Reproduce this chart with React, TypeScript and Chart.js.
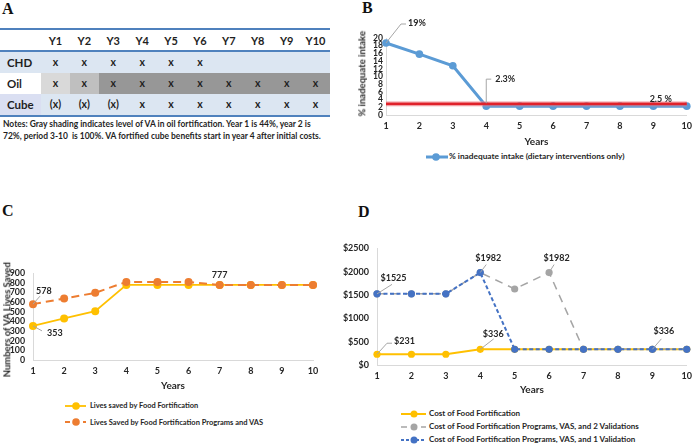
import React, { useEffect, useRef } from "react";
import { Chart, registerables } from "chart.js";

Chart.register(...registerables);

const FONT = "Lato, 'Open Sans', 'DejaVu Sans', sans-serif";
const SERIF = "'Liberation Serif', 'DejaVu Serif', serif";
const TEXT = "#262626";

// ---------- Panel A data ----------
const TABLE_YEARS = ["Y1", "Y2", "Y3", "Y4", "Y5", "Y6", "Y7", "Y8", "Y9", "Y10"];
const TABLE_ROWS = ["CHD", "Oil", "Cube"];
const CHD_MARKS = ["x", "x", "x", "x", "x", "x", "", "", "", ""];
const OIL_MARKS = ["x", "x", "x", "x", "x", "x", "x", "x", "x", "x"];
const CUBE_MARKS = ["(x)", "(x)", "(x)", "x", "x", "x", "x", "x", "x", "x"];
const OIL_VA_LEVEL = [44, 72, 100, 100, 100, 100, 100, 100, 100, 100];
const NOTES_LINES = [
  "Notes: Gray shading indicates level of VA in oil fortification. Year 1 is 44%, year 2 is",
  "72%, period 3-10  is 100%. VA fortified cube benefits start in year 4 after initial costs.",
];

// ---------- Shared ----------
const YEARS = ["1", "2", "3", "4", "5", "6", "7", "8", "9", "10"];

// ---------- Panel B data ----------
const INADEQUATE_INTAKE = [18.7, 15.8, 12.8, 2.3, 2.3, 2.3, 2.3, 2.3, 2.3, 2.3];
const THRESHOLD = [2.9, 2.9, 2.9, 2.9, 2.9, 2.9, 2.9, 2.9, 2.9, 2.9];
const B_LEGEND = "% inadequate intake (dietary interventions only)";
const B_Y_TITLE = "% inadequate intake";

// ---------- Panel C data ----------
const LIVES_FF = [353, 430, 505, 777, 777, 777, 777, 777, 777, 777];
const LIVES_FF_VAS = [578, 635, 695, 808, 808, 808, 777, 777, 777, 777];
const C_LEGEND = [
  "Lives saved by Food Fortification",
  "Lives Saved by Food Fortification Programs and VAS",
];
const C_Y_TITLE = "Numbers of VA Lives Saved";

// ---------- Panel D data ----------
const COST_FF = [231, 231, 231, 336, 336, 336, 336, 336, 336, 336];
const COST_FF_VAS_2VAL = [1525, 1525, 1525, 1982, 1630, 1982, 336, 336, 336, 336];
const COST_FF_VAS_1VAL = [1525, 1525, 1525, 1982, 336, 336, 336, 336, 336, 336];
const D_LEGEND = [
  "Cost of Food Fortification",
  "Cost of Food Fortification Programs, VAS, and 2 Validations",
  "Cost of Food Fortification Programs, VAS, and 1 Validation",
];

// ---------- helpers ----------
type Ann = {
  ds: number;
  i: number;
  text: string;
  path?: [number, number][];
  dx: number;
  dy: number;
  align?: CanvasTextAlign;
};

function makeAnnPlugin(items: Ann[], size: number) {
  return {
    id: "anns",
    afterDatasetsDraw(chart: any) {
      const ctx = chart.ctx as CanvasRenderingContext2D;
      ctx.save();
      for (const a of items) {
        const el = chart.getDatasetMeta(a.ds).data[a.i];
        const px = el.x;
        const py = el.y;
        if (a.path) {
          ctx.beginPath();
          a.path.forEach(([x, y], k) => {
            if (k === 0) ctx.moveTo(px + x, py + y);
            else ctx.lineTo(px + x, py + y);
          });
          ctx.strokeStyle = "#a6a6a6";
          ctx.lineWidth = 1;
          ctx.setLineDash([]);
          ctx.stroke();
        }
        ctx.font = `bold ${size}px ${FONT}`;
        ctx.fillStyle = TEXT;
        ctx.textAlign = a.align || "center";
        ctx.textBaseline = "middle";
        ctx.fillText(a.text, px + a.dx, py + a.dy);
      }
      ctx.restore();
    },
  };
}

type AxisP = {
  yMax: number;
  step: number;
  yWidth: number;
  xHeight: number;
  yTickPad: number;
  xTickPad: number;
  xTitlePad: number;
  tickSize: number;
  yTickSize: number;
  titleSize: number;
  money?: boolean;
};

function axes(p: AxisP) {
  const yTicks: any = {
    stepSize: p.step,
    autoSkip: false,
    padding: p.yTickPad,
    color: TEXT,
    font: { family: FONT, weight: "bold", size: p.yTickSize },
  };
  if (p.money) yTicks.callback = (v: any) => "$" + v;
  return {
    x: {
      type: "category",
      offset: false,
      grid: { display: false, drawTicks: false },
      border: { display: true, color: "#d9d9d9", width: 1 },
      ticks: {
        padding: p.xTickPad,
        autoSkip: false,
        maxRotation: 0,
        color: TEXT,
        font: { family: FONT, weight: "bold", size: p.tickSize },
      },
      title: {
        display: true,
        text: "Years",
        color: TEXT,
        font: { family: FONT, weight: "bold", size: p.titleSize },
        padding: { top: 0, bottom: p.xTitlePad },
      },
      afterFit: (s: any) => {
        s.height = p.xHeight;
      },
    },
    y: {
      min: 0,
      max: p.yMax,
      grid: { display: false, drawTicks: false },
      border: { display: true, color: "#d9d9d9", width: 1 },
      ticks: yTicks,
      title: { display: false },
      afterFit: (s: any) => {
        s.width = p.yWidth;
      },
    },
  };
}

function baseOptions(padTop: number, padRight: number, scales: any) {
  return {
    responsive: false,
    animation: false as const,
    layout: { padding: { left: 0, top: padTop, right: padRight, bottom: 0 } },
    plugins: { legend: { display: false }, tooltip: { enabled: false } },
    scales,
  };
}

function ChartCanvas(props: { left: number; top: number; width: number; height: number; make: () => any }) {
  const ref = useRef<HTMLCanvasElement>(null);
  useEffect(() => {
    const chart = new Chart(ref.current as HTMLCanvasElement, props.make());
    return () => chart.destroy();
  }, []);
  return (
    <canvas
      ref={ref}
      width={props.width}
      height={props.height}
      style={{ position: "absolute", left: props.left, top: props.top, width: props.width, height: props.height }}
    />
  );
}

function lineDs(label: string, data: number[], color: string, width: number, r: number, dash: number[], order: number) {
  return {
    label,
    data,
    borderColor: color,
    backgroundColor: color,
    borderWidth: width,
    borderDash: dash,
    pointRadius: r,
    pointBackgroundColor: color,
    pointBorderColor: color,
    pointBorderWidth: 0,
    tension: 0,
    fill: false,
    clip: false,
    order,
  };
}

// ---------- chart configs ----------
function makeB() {
  const annotations: Ann[] = [
    { ds: 0, i: 0, text: "19%", path: [[0, 0], [15, -19], [20, -19]], dx: 22, dy: -19.5, align: "left" },
    { ds: 0, i: 3, text: "2.3%", path: [[0, -3], [0, -27], [5, -27]], dx: 9, dy: -27, align: "left" },
    { ds: 2, i: 9, text: "2.5 %", dx: -15, dy: -5, align: "right" },
  ];
  return {
    type: "line",
    data: {
      labels: YEARS,
      datasets: [
        lineDs(B_LEGEND, INADEQUATE_INTAKE, "#5b9bd5", 3, 3.8, [], 3),
        lineDs("halo", THRESHOLD, "rgba(240,140,148,0.45)", 5.5, 0, [], 2),
        lineDs("2.5 %", THRESHOLD, "#e0222b", 2.6, 0, [], 1),
      ],
    },
    options: baseOptions(
      38,
      5,
      axes({
        yMax: 20,
        step: 2,
        yWidth: 46,
        xHeight: 35,
        yTickPad: 3,
        xTickPad: 6,
        xTitlePad: 2,
        tickSize: 9,
        yTickSize: 8.6,
        titleSize: 10,
      })
    ),
    plugins: [makeAnnPlugin(annotations, 9)],
  };
}

function makeC() {
  const annotations: Ann[] = [
    { ds: 1, i: 0, text: "578", path: [[0, 0], [7, -8]], dx: 3, dy: -13, align: "left" },
    { ds: 0, i: 0, text: "353", path: [[0, 0], [9, 5]], dx: 14, dy: 7, align: "left" },
    { ds: 0, i: 6, text: "777", dx: 0, dy: -10, align: "center" },
  ];
  return {
    type: "line",
    data: {
      labels: YEARS,
      datasets: [
        lineDs(C_LEGEND[0], LIVES_FF, "#ffc000", 1.8, 4, [], 2),
        lineDs(C_LEGEND[1], LIVES_FF_VAS, "#ed7d31", 2, 4, [8, 5], 1),
      ],
    },
    options: baseOptions(
      15,
      27,
      axes({
        yMax: 900,
        step: 100,
        yWidth: 33,
        xHeight: 33,
        yTickPad: 8,
        xTickPad: 6,
        xTitlePad: 1,
        tickSize: 9,
        yTickSize: 8.8,
        titleSize: 10,
      })
    ),
    plugins: [makeAnnPlugin(annotations, 9)],
  };
}

function makeD() {
  const annotations: Ann[] = [
    { ds: 2, i: 0, text: "$1525", path: [[0, 0], [15, -9.5]], dx: 16.5, dy: -16, align: "center" },
    { ds: 2, i: 3, text: "$1982", path: [[0, 0], [6, -8]], dx: 8, dy: -14.5, align: "center" },
    { ds: 1, i: 5, text: "$1982", path: [[0, 0], [5, -8]], dx: 7.5, dy: -14.5, align: "center" },
    { ds: 0, i: 3, text: "$336", path: [[0, 0], [13.5, -10.5]], dx: 13, dy: -15.5, align: "center" },
    { ds: 2, i: 8, text: "$336", path: [[0, 0], [9, -10.5]], dx: 11.5, dy: -17.8, align: "center" },
    { ds: 0, i: 0, text: "$231", path: [[0, 0], [10, -11], [15, -11]], dx: 17, dy: -13, align: "left" },
  ];
  return {
    type: "line",
    data: {
      labels: YEARS,
      datasets: [
        lineDs(D_LEGEND[0], COST_FF, "#ffc000", 2, 3.6, [], 3),
        lineDs(D_LEGEND[1], COST_FF_VAS_2VAL, "#a5a5a5", 1.5, 3.6, [8, 6], 2),
        lineDs(D_LEGEND[2], COST_FF_VAS_1VAL, "#4472c4", 2, 3.6, [4, 2.5], 1),
      ],
    },
    options: baseOptions(
      13,
      6,
      axes({
        yMax: 2500,
        step: 500,
        yWidth: 37,
        xHeight: 32,
        yTickPad: 8,
        xTickPad: 6,
        xTitlePad: 1,
        tickSize: 9,
        yTickSize: 9,
        titleSize: 10,
        money: true,
      })
    ),
    plugins: [makeAnnPlugin(annotations, 9)],
  };
}

// ---------- HTML pieces ----------
function PanelLabel({ x, y, t }: { x: number; y: number; t: string }) {
  return (
    <div
      style={{
        position: "absolute",
        left: x,
        top: y,
        fontFamily: SERIF,
        fontWeight: 700,
        fontSize: 16,
        lineHeight: "16px",
        color: "#111",
      }}
    >
      {t}
    </div>
  );
}

function VTitle({ cx, cy, text, size }: { cx: number; cy: number; text: string; size: number }) {
  return (
    <div
      style={{
        position: "absolute",
        left: cx - 100,
        top: cy - size * 0.6,
        width: 200,
        textAlign: "center",
        transform: "rotate(-90deg)",
        transformOrigin: "50% 50%",
        fontFamily: FONT,
        fontWeight: 700,
        fontSize: size,
        lineHeight: `${size * 1.2}px`,
        color: TEXT,
        whiteSpace: "nowrap",
      }}
    >
      {text}
    </div>
  );
}

function LegendItem(p: {
  x: number;
  y: number;
  len: number;
  mx: number;
  color: string;
  dash?: string;
  lw: number;
  r: number;
  text: string;
  tx: number;
  size: number;
}) {
  return (
    <>
      <svg style={{ position: "absolute", left: p.x, top: p.y - 6 }} width={p.len} height={12}>
        <line x1={0} y1={6} x2={p.len} y2={6} stroke={p.color} strokeWidth={p.lw} strokeDasharray={p.dash} />
        <circle cx={p.mx} cy={6} r={p.r} fill={p.color} />
      </svg>
      <div
        style={{
          position: "absolute",
          left: p.tx,
          top: p.y - p.size * 0.6,
          fontFamily: FONT,
          fontWeight: 700,
          fontSize: p.size,
          lineHeight: `${p.size * 1.2}px`,
          color: TEXT,
          whiteSpace: "nowrap",
        }}
      >
        {p.text}
      </div>
    </>
  );
}

function shade(level: number) {
  if (level < 50) return "#d9d9d9";
  if (level < 90) return "#bfbfbf";
  return "#979797";
}

function TableA() {
  const colX0 = 41;
  const colW = 28.9;
  const rowTops = [52, 73, 94];
  const rowH = 21;
  const marks = [CHD_MARKS, OIL_MARKS, CUBE_MARKS];
  const cellText = (txt: string, cx: number, cy: number, size: number, key: string, align = "center") => (
    <div
      key={key}
      style={{
        position: "absolute",
        left: align === "center" ? cx - 20 : cx,
        width: align === "center" ? 40 : undefined,
        top: cy - size * 0.6,
        textAlign: align as any,
        fontFamily: FONT,
        fontWeight: 700,
        fontSize: size,
        lineHeight: `${size * 1.2}px`,
        color: "#1f1f1f",
        whiteSpace: "nowrap",
      }}
    >
      {txt}
    </div>
  );
  const out: any[] = [];
  out.push(<div key="l1" style={{ position: "absolute", left: 0, top: 28, width: 330, height: 2, background: "#4f81bd" }} />);
  out.push(<div key="l2" style={{ position: "absolute", left: 0, top: 50, width: 330, height: 2, background: "#4f81bd" }} />);
  out.push(<div key="l3" style={{ position: "absolute", left: 0, top: 115, width: 330, height: 2, background: "#4f81bd" }} />);
  rowTops.forEach((t, r) => {
    if (r === 1) {
      OIL_VA_LEVEL.forEach((lv, c) => {
        out.push(
          <div
            key={`bg${r}-${c}`}
            style={{ position: "absolute", left: colX0 + c * colW, top: t, width: colW + 0.5, height: rowH, background: shade(lv) }}
          />
        );
      });
    } else {
      out.push(
        <div key={`bg${r}`} style={{ position: "absolute", left: 0, top: t, width: 330, height: rowH, background: "#dce6f2" }} />
      );
      if (r === 2)
        out.push(
          <div key="bgc" style={{ position: "absolute", left: 0, top: t, width: colX0, height: rowH, background: "#dadff2" }} />
        );
    }
  });
  TABLE_YEARS.forEach((y, c) => out.push(cellText(y, colX0 + c * colW + colW / 2, 40.5, 11, `h${c}`)));
  TABLE_ROWS.forEach((name, r) => {
    const cy = rowTops[r] + rowH / 2;
    out.push(cellText(name, 7, cy, 11.5, `rn${r}`, "left"));
    marks[r].forEach((m, c) => {
      if (m) out.push(cellText(m, colX0 + c * colW + colW / 2, cy, 10.5, `m${r}-${c}`));
    });
  });
  NOTES_LINES.forEach((ln, k) =>
    out.push(
      <div
        key={`n${k}`}
        style={{
          position: "absolute",
          left: 3,
          top: 118 + k * 12,
          fontFamily: FONT,
          fontWeight: 700,
          fontSize: 8.45,
          lineHeight: "12px",
          color: "#1f1f1f",
          whiteSpace: "pre",
        }}
      >
        {ln}
      </div>
    )
  );
  return <>{out}</>;
}

export default function App() {
  return (
    <div
      style={{
        position: "absolute",
        left: 0,
        top: 0,
        width: 698,
        height: 444,
        background: "#fff",
        overflow: "hidden",
      }}
    >
      <PanelLabel x={2} y={1} t="A" />
      <PanelLabel x={362} y={0} t="B" />
      <PanelLabel x={2} y={203} t="C" />
      <PanelLabel x={358} y={204} t="D" />
      <TableA />

      <ChartCanvas left={340} top={0} width={358} height={150} make={makeB} />
      <VTitle cx={362} cy={74} text={B_Y_TITLE} size={9.5} />
      <LegendItem x={426} y={157} len={22} mx={10} color="#5b9bd5" lw={3} r={3.8} text={B_LEGEND} tx={449} size={8.3} />

      <ChartCanvas left={0} top={258} width={340} height={135} make={makeC} />
      <VTitle cx={7} cy={320} text={C_Y_TITLE} size={9.5} />
      <LegendItem x={65} y={406} len={21} mx={11} color="#ffc000" lw={1.8} r={3.8} text={C_LEGEND[0]} tx={90} size={7.45} />
      <LegendItem x={65} y={422} len={21} mx={11} color="#ed7d31" lw={2} dash="5 4" r={3.8} text={C_LEGEND[1]} tx={90} size={7.5} />

      <ChartCanvas left={340} top={235} width={358} height={162} make={makeD} />
      <LegendItem x={401} y={414} len={25} mx={13} color="#ffc000" lw={2} r={3.5} text={D_LEGEND[0]} tx={429} size={8} />
      <LegendItem x={401} y={427} len={25} mx={13} color="#a5a5a5" lw={1.5} dash="6 4" r={3.5} text={D_LEGEND[1]} tx={429} size={8} />
      <LegendItem x={401} y={440} len={25} mx={13} color="#4472c4" lw={2} dash="3 2" r={3.5} text={D_LEGEND[2]} tx={429} size={8} />
    </div>
  );
}
